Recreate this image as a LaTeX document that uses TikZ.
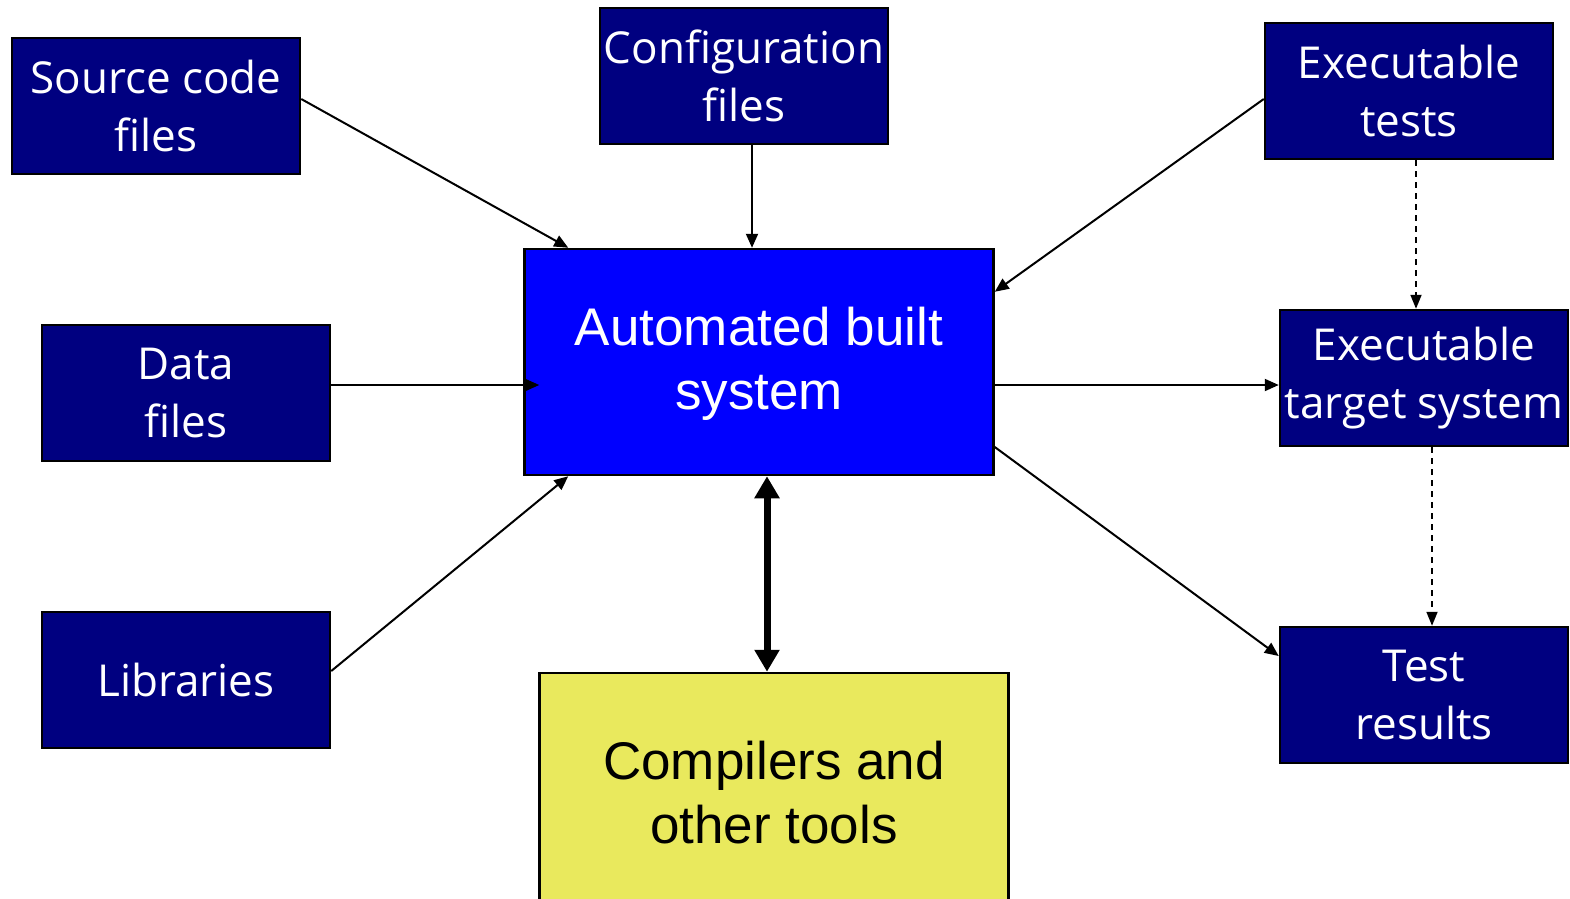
\documentclass[tikz,border=0pt]{standalone}
\usepackage{fontspec}
\setmainfont{Open Sans}
\newfontfamily\arialfont{Liberation Sans}
\usetikzlibrary{arrows.meta,calc}
\definecolor{navy}{HTML}{000080}
\definecolor{buildblue}{HTML}{0000FF}
\definecolor{toolyellow}{HTML}{E9E95D}
\tikzset{
  box/.style={draw, line width=2.5pt, fill=navy, text=white, align=center, inner sep=0pt, minimum width=288pt, minimum height=136pt, font=\fontsize{44}{58}\selectfont},
  core/.style={draw, line width=2.5pt, align=center, inner sep=0pt, minimum width=469pt, font=\arialfont\fontsize{53}{64}\selectfont},
  feed/.style={-{Triangle[length=14pt,width=12pt]}, line width=2pt},
  check/.style={-{Triangle[length=14pt,width=11pt]}, line width=1.8pt, dash pattern=on 6pt off 5pt},
  link/.style={{Triangle[length=22pt,width=24pt]}-{Triangle[length=22pt,width=24pt]}, line width=7pt},
}

\begin{document}
\begin{tikzpicture}[x=1pt, y=-1pt]
  \useasboundingbox (0,0) rectangle (1570,898);
  % inputs
  \node[box] (src) at (156,106) {Source code\\files};
  \node[box] (cfg) at (744,76) {Configuration\\files};
  \node[box] (data) at (186,393) {Data\\files};
  \node[box] (lib) at (186,680) {Libraries};
  % build
  \node[core, fill=buildblue, text=white, minimum height=226pt, text depth=8pt] (abs) at (759,362) {Automated built\\system};
  \node[core, fill=toolyellow, minimum height=240pt] (tools) at (774,793) {Compilers and\\other tools};
  % outputs
  \node[box] (tests) at (1409,91) {Executable\\tests};
  \node[box] (target) at (1424,378) {Executable\\target system};
  \node[box] (res) at (1424,695) {Test\\results};

  \draw[feed] ($(src.east)+(0,-7)$) -- ($(abs.north west)+(45,0)$);
  \draw[feed] ($(cfg.south)+(8,0)$) -- ($(abs.north)+(-7,0)$);
  \draw[feed] ($(tests.west)+(0,8)$) -- ($(abs.north east)+(0,44)$);
  \draw[feed] ($(data.east)+(0,-8)$) -- ($(abs.west)+(16,23)$);
  \draw[feed] ($(lib.east)+(0,-9)$) -- ($(abs.south west)+(45,0)$);
  \draw[feed] ($(abs.east)+(0,23)$) -- ($(target.west)+(0,7)$);
  \draw[feed] ($(abs.east)+(0,85)$) -- ($(res.west)+(0,-39)$);
  \draw[check] ($(tests.south)+(7,0)$) -- ($(target.north)+(-8,0)$);
  \draw[check] ($(target.south)+(8,0)$) -- ($(res.north)+(8,0)$);
  \draw[link] ($(abs.south)+(8,0)$) -- ($(tools.north)+(-7,0)$);
\end{tikzpicture}
\end{document}
